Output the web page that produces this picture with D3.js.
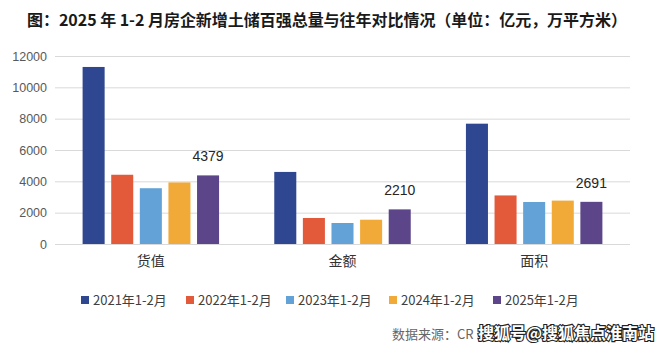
<!DOCTYPE html>
<html>
<head>
<meta charset="utf-8">
<script src="https://cdn.jsdelivr.net/npm/d3@7"></script>
<style>
  html, body { margin: 0; padding: 0; background: #ffffff; }
  svg { display: block; }
</style>
</head>
<body>
<svg id="chart" width="660" height="350"></svg>
<script>
// Land-bank top-100 totals, Jan–Feb, by year
const categories = ["货值", "金额", "面积"];
const seriesNames = ["2021年1-2月", "2022年1-2月", "2023年1-2月", "2024年1-2月", "2025年1-2月"];
const values2021 = [11300, 4600, 7680];
const values2022 = [4420, 1660, 3100];
const values2023 = [3560, 1340, 2680];
const values2024 = [3930, 1550, 2770];
const values2025 = [4379, 2210, 2691];
const yTicks = [0, 2000, 4000, 6000, 8000, 10000, 12000];
const colors = ["#2f4791", "#e35a3b", "#62a2d7", "#f1aa38", "#5c4689"];
const titleText = "图：2025 年 1-2 月房企新增土储百强总量与往年对比情况（单位：亿元，万平方米）";

const seriesValues = [values2021, values2022, values2023, values2024, values2025];
const rows = categories.map((c, i) => ({
  category: c,
  bars: seriesNames.map((s, j) => ({ series: s, idx: j, value: seriesValues[j][i] }))
}));

const svg = d3.select("#chart");
const plot = { left: 55, right: 630, top: 56, bottom: 244 };

const x0 = d3.scaleBand().domain(categories).range([plot.left, plot.right])
  .paddingInner(0.288).paddingOuter(0.144);
const x1 = d3.scaleBand().domain(seriesNames).range([0, x0.bandwidth()])
  .paddingInner(0.23).paddingOuter(0);
const y = d3.scaleLinear().domain([0, 12000]).range([plot.bottom, plot.top]);

// Title
svg.append("text")
  .attr("x", 27).attr("y", 26)
  .attr("font-family", "'Noto Sans CJK SC', sans-serif")
  .attr("font-size", 16).attr("font-weight", 700)
  .attr("fill", "#1a1a1a")
  .attr("textLength", 600).attr("lengthAdjust", "spacing")
  .text(titleText);

// Gridlines and y axis labels
const yAxis = d3.axisLeft(y).tickValues(yTicks).tickFormat(d3.format("d"))
  .tickSize(-(plot.right - plot.left)).tickPadding(8);
const gy = svg.append("g").attr("transform", `translate(${plot.left},0)`).call(yAxis);
gy.select(".domain").remove();
gy.selectAll(".tick line").attr("stroke", "#d9d9d9").attr("stroke-width", 1);
gy.selectAll(".tick text")
  .attr("font-family", "'Liberation Sans', Arial, sans-serif")
  .attr("font-size", 12.5).attr("fill", "#595959");

// Bars
const groups = svg.append("g").selectAll("g").data(rows).join("g")
  .attr("transform", d => `translate(${x0(d.category)},0)`);
groups.selectAll("rect").data(d => d.bars).join("rect")
  .attr("x", d => x1(d.series))
  .attr("width", x1.bandwidth())
  .attr("y", d => y(d.value))
  .attr("height", d => y(0) - y(d.value))
  .attr("fill", d => colors[d.idx]);

// Value labels on the 2025 bars
groups.append("text")
  .datum(d => d.bars[4])
  .attr("x", d => x1(d.series) + x1.bandwidth() / 2)
  .attr("y", d => y(d.value) - 14)
  .attr("text-anchor", "middle")
  .attr("font-family", "'Liberation Sans', Arial, sans-serif")
  .attr("font-size", 14).attr("fill", "#262626")
  .text(d => d.value);

// Category labels
const xAxis = d3.axisBottom(x0).tickSize(0).tickPadding(12);
const gx = svg.append("g").attr("transform", `translate(0,${plot.bottom})`).call(xAxis);
gx.select(".domain").remove();
gx.selectAll(".tick text")
  .attr("font-family", "'Noto Sans CJK SC', sans-serif")
  .attr("font-size", 14).attr("fill", "#333333");

// Legend
const legendX = [81, 186, 286, 389, 493];
const legend = svg.append("g").selectAll("g").data(seriesNames).join("g")
  .attr("transform", (d, i) => `translate(${legendX[i]},300)`);
legend.append("rect").attr("x", 0).attr("y", -4).attr("width", 8).attr("height", 8)
  .attr("fill", (d, i) => colors[i]);
legend.append("text").attr("x", 12).attr("y", 0).attr("dy", "0.35em")
  .attr("font-family", "'Noto Sans CJK SC', sans-serif")
  .attr("font-size", 13).attr("fill", "#404040")
  .text(d => d);

// Source note and watermark
svg.append("text")
  .attr("x", 392).attr("y", 339)
  .attr("font-family", "'Noto Sans CJK SC', sans-serif")
  .attr("font-size", 13).attr("fill", "#666666")
  .text("数据来源：CR");
svg.append("text")
  .attr("x", 478).attr("y", 339)
  .attr("font-family", "'Noto Sans CJK SC', sans-serif")
  .attr("font-size", 16).attr("font-weight", 700)
  .attr("fill", "#ffffff").attr("stroke", "#222222").attr("stroke-width", 2.2)
  .attr("paint-order", "stroke")
  .text("搜狐号@搜狐焦点淮南站");
</script>
</body>
</html>
